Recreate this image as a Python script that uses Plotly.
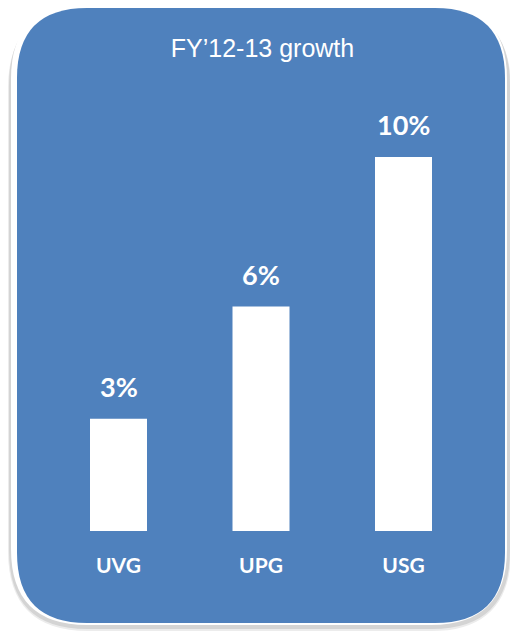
import plotly.graph_objects as go

# Growth by group, FY'12-13 (percent)
groups = ["UVG", "UPG", "USG"]
growth = [3, 6, 10]
value_labels = ["3%", "6%", "10%"]

W, H = 510, 631
BLUE = "#4F81BD"


def rounded_rect(x0, y0, x1, y1, r):
    """SVG path for a rounded rectangle given in pixel coordinates (y down),
    converted to paper fractions."""
    rx, ry = r / W, r / H
    X0, X1 = x0 / W, x1 / W
    Y0, Y1 = 1 - y1 / H, 1 - y0 / H  # paper y grows upward
    return (
        f"M {X0 + rx} {Y1} L {X1 - rx} {Y1} Q {X1} {Y1} {X1} {Y1 - ry} "
        f"L {X1} {Y0 + ry} Q {X1} {Y0} {X1 - rx} {Y0} "
        f"L {X0 + rx} {Y0} Q {X0} {Y0} {X0} {Y0 + ry} "
        f"L {X0} {Y1 - ry} Q {X0} {Y1} {X0 + rx} {Y1} Z"
    )


panel_shapes = [
    # soft drop shadow
    dict(type="path", path=rounded_rect(8, 8, 511, 631, 80), fillcolor="#ececec",
         line=dict(width=0), xref="paper", yref="paper", layer="below"),
    dict(type="path", path=rounded_rect(9, 7, 510, 629, 78), fillcolor="#d4d4d4",
         line=dict(width=0), xref="paper", yref="paper", layer="below"),
    # white frame
    dict(type="path", path=rounded_rect(11, 3, 507, 625, 76), fillcolor="white",
         line=dict(width=0), xref="paper", yref="paper", layer="below"),
    # blue panel
    dict(type="path", path=rounded_rect(17, 8, 505, 623, 70), fillcolor=BLUE,
         line=dict(width=0), xref="paper", yref="paper", layer="below"),
]

fig = go.Figure(
    go.Bar(
        x=groups,
        y=growth,
        marker=dict(color="white", line=dict(width=0)),
        hoverinfo="skip",
    )
)

# value labels above each bar
for g, v, t in zip(groups, growth, value_labels):
    fig.add_annotation(
        x=g, y=v, text=f"<b>{t}</b>", showarrow=False,
        yanchor="bottom", yshift=14,
        font=dict(family="Lato", size=27, color="white"),
    )

plot_bottom, plot_top = 531, 120
px_per_unit = (531 - 157) / 10.0
y_top = (plot_bottom - plot_top) / px_per_unit

fig.update_layout(
    width=W, height=H,
    margin=dict(l=0, r=0, t=0, b=0),
    paper_bgcolor="white",
    plot_bgcolor="rgba(0,0,0,0)",
    shapes=panel_shapes,
    bargap=0.6,
    showlegend=False,
    title=dict(
        text="FY’12-13 growth",
        x=262.5 / W, xanchor="center",
        y=1 - 48 / H, yanchor="middle",
        font=dict(family="Liberation Sans", size=25, color="white"),
    ),
    xaxis=dict(
        domain=[47.25 / W, 474.75 / W],
        showgrid=False, zeroline=False, showline=False, ticks="",
        tickfont=dict(family="Lato", size=21, color="white", weight="bold"),
        ticklabelstandoff=20,
        fixedrange=True,
    ),
    yaxis=dict(
        domain=[1 - plot_bottom / H, 1 - plot_top / H],
        range=[0, y_top],
        visible=False,
        fixedrange=True,
    ),
)

fig.write_html("out.html")
